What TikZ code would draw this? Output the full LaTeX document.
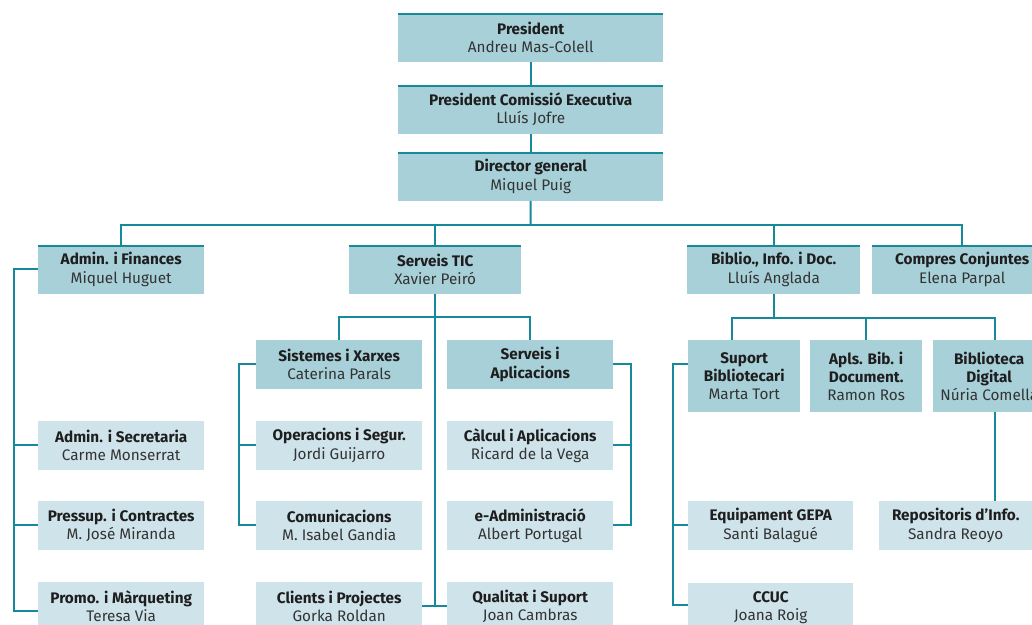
\documentclass[tikz,border=0pt]{standalone}
\usepackage{fontspec}
\setmainfont{Fira Sans}
\usetikzlibrary{calc}
\definecolor{darkbox}{HTML}{A8D0D8}
\definecolor{lightbox}{HTML}{CFE3EA}
\definecolor{linec}{HTML}{16899A}
\definecolor{headc}{HTML}{1E1E1E}
\definecolor{namec}{HTML}{333333}
\newcommand{\hd}[1]{{\color{headc}\bfseries #1}}
\newcommand{\nm}[1]{{\color{namec}#1}}
\tikzset{
  box/.style={anchor=north west, inner sep=0pt, align=center, font=\fontsize{15.3}{18.3}\selectfont, minimum height=48.5pt},
  dbox/.style={box, fill=darkbox},
  lbox/.style={box, fill=lightbox},
  topbar/.style={path picture={\draw[linec, line width=4pt] (path picture bounding box.north west) -- (path picture bounding box.north east);}},
  conn/.style={draw=linec, line width=2pt}
}
\begin{document}
\begin{tikzpicture}[x=1pt,y=-1pt]
\useasboundingbox (0,0) rectangle (1032,624);
\fill[white] (0,0) rectangle (1032,624);
% top chain
\node[dbox,topbar,minimum width=265pt] (pres) at (398,13) {\hd{President}\\\nm{Andreu Mas-Colell}};
\node[dbox,topbar,minimum width=265pt] (pce) at (398,85) {\hd{President Comissió Executiva}\\\nm{Lluís Jofre}};
\node[dbox,topbar,minimum width=265pt] (dg) at (398,152) {\hd{Director general}\\\nm{Miquel Puig}};
% level 2
\node[dbox,topbar,minimum width=166pt] (af) at (38,245) {\hd{Admin. i Finances}\\\nm{Miquel Huguet}};
\node[dbox,topbar,minimum width=172pt] (tic) at (349,245) {\hd{Serveis TIC}\\\nm{Xavier Peiró}};
\node[dbox,topbar,minimum width=173pt] (bib) at (687,245) {\hd{Biblio., Info. i Doc.}\\\nm{Lluís Anglada}};
\node[dbox,topbar,minimum width=180pt] (cc) at (872,245) {\hd{Compres Conjuntes}\\\nm{Elena Parpal}};
% Admin children
\node[lbox,minimum width=166pt] (as) at (38,421) {\hd{Admin. i Secretaria}\\\nm{Carme Monserrat}};
\node[lbox,minimum width=166pt] (pc) at (38,501) {\hd{Pressup. i Contractes}\\\nm{M. José Miranda}};
\node[lbox,minimum width=166pt] (pm) at (38,582) {\hd{Promo. i Màrqueting}\\\nm{Teresa Via}};
% TIC children
\node[dbox,minimum width=166pt] (sx) at (256,340) {\hd{Sistemes i Xarxes}\\\nm{Caterina Parals}};
\node[dbox,minimum width=166pt] (sa) at (447,340) {\hd{Serveis i}\\\hd{Aplicacions}};
\node[lbox,minimum width=166pt] (op) at (256,421) {\hd{Operacions i Segur.}\\\nm{Jordi Guijarro}};
\node[lbox,minimum width=166pt] (com) at (256,501) {\hd{Comunicacions}\\\nm{M. Isabel Gandia}};
\node[lbox,minimum width=166pt] (cp) at (256,582) {\hd{Clients i Projectes}\\\nm{Gorka Roldan}};
\node[lbox,minimum width=166pt] (ca) at (447,421) {\hd{Càlcul i Aplicacions}\\\nm{Ricard de la Vega}};
\node[lbox,minimum width=166pt] (ea) at (447,501) {\hd{e-Administració}\\\nm{Albert Portugal}};
\node[lbox,minimum width=166pt] (qs) at (447,582) {\hd{Qualitat i Suport}\\\nm{Joan Cambras}};
% Biblio children
\node[dbox,minimum width=112pt,minimum height=72pt] (sb) at (688,340) {\hd{Suport}\\\hd{Bibliotecari}\\\nm{Marta Tort}};
\node[dbox,minimum width=112pt,minimum height=72pt] (ab) at (810,340) {\hd{Apls. Bib. i}\\\hd{Document.}\\\nm{Ramon Ros}};
\node[dbox,minimum width=112pt,minimum height=72pt] (bd) at (933,340) {\hd{Biblioteca}\\\hd{Digital}\\\nm{Núria Comella}};
\node[lbox,minimum width=165pt] (eg) at (688,501) {\hd{Equipament GEPA}\\\nm{Santi Balagué}};
\node[lbox,minimum width=165pt] (ccuc) at (688,583) {\hd{CCUC}\\\nm{Joana Roig}};
\node[lbox,minimum width=153pt] (rep) at (879,501) {\hd{Repositoris d’Info.}\\\nm{Sandra Reoyo}};
% connectors
\coordinate (bus) at (530.5,225);
\draw[conn] (pres.south) -- (pce.north);
\draw[conn] (pce.south) -- (dg.north);
\draw[conn] (dg.south) -- (bus);
\draw[conn] (af.north) |- (bus) -| (cc.north);
\draw[conn] (tic.north) -- (tic.north |- bus);
\draw[conn] (bib.north) -- (bib.north |- bus);
% admin
\draw[conn] (af.west) -- ++(-24,0) |- ([yshift=-5pt]pm.west);
\draw[conn] (as.west) -- ++(-24,0);
\draw[conn] (pc.west) -- ++(-24,0);
% TIC
\coordinate (ticbus) at (435,317);
\draw[conn] (tic.south) |- (cp.east);
\draw[conn] (tic.south) |- (qs.west);
\draw[conn] (sx.north) |- (ticbus) -| (sa.north);
\draw[conn] (sx.west) -- ++(-17,0) |- (com.west);
\draw[conn] (op.west) -- ++(-17,0);
\draw[conn] (sa.east) -- ++(18,0) |- (ea.east);
\draw[conn] (ca.east) -- ++(18,0);
% Biblio
\coordinate (bbus) at (bib.south |- 0,318);
\draw[conn] (bib.south) -- (bbus);
\draw[conn] ([xshift=-12pt]sb.north) |- (bbus) -| ([xshift=6pt]bd.north);
\draw[conn] (ab.north) -- (ab.north |- bbus);
\draw[conn] ([yshift=12pt]sb.west) -- ++(-15,0) |- ([yshift=2pt]ccuc.west);
\draw[conn] (eg.west) -- ++(-15,0);
\draw[conn] ([xshift=6pt]bd.south) -- ([xshift=6pt]bd.south |- rep.north);
\end{tikzpicture}
\end{document}
